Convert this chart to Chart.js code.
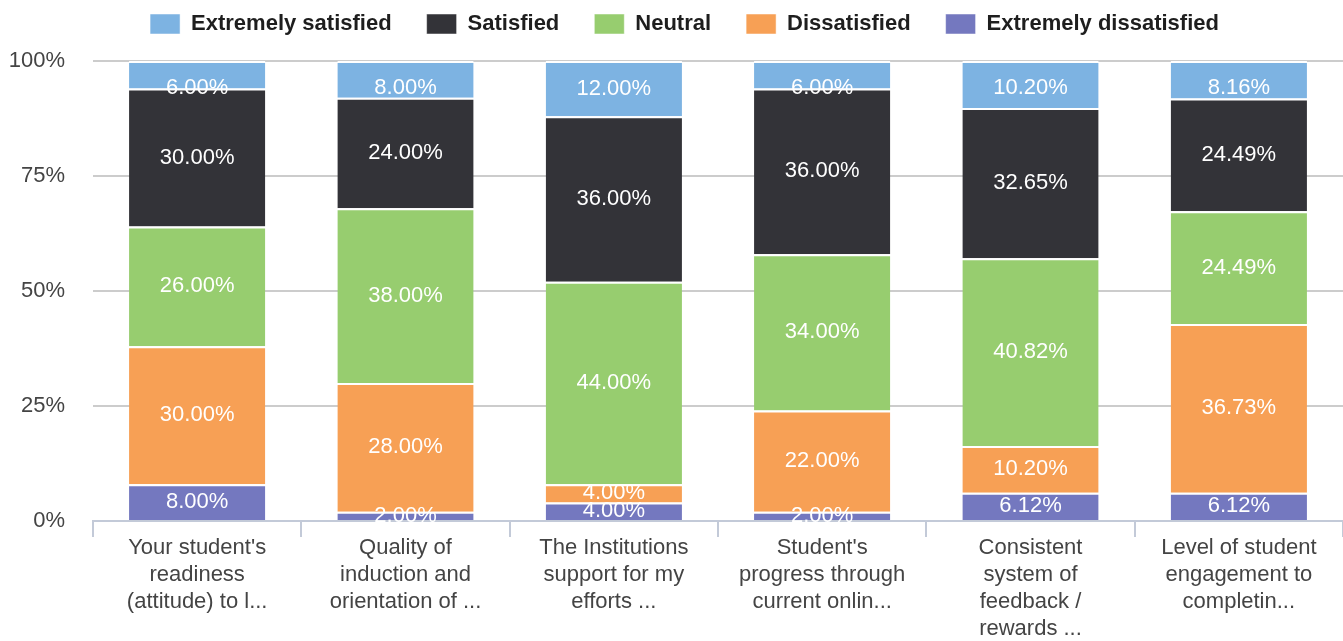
<!DOCTYPE html>
<html>
<head>
<meta charset="utf-8">
<script src="https://cdn.jsdelivr.net/npm/chart.js@4.4.1/dist/chart.umd.min.js"></script>
<style>
  body { margin: 0; background: #fff; }
  #wrap { width: 1343px; height: 641px; }
</style>
</head>
<body>
<div id="wrap"><canvas id="satisfactionChart" width="1343" height="641"></canvas></div>
<script>
// Questions (x axis), already wrapped the way the survey tool shows them
const categories = [
    ["Your student's", "readiness", "(attitude) to l..."],
    ["Quality of", "induction and", "orientation of ..."],
    ["The Institutions", "support for my", "efforts ..."],
    ["Student's", "progress through", "current onlin..."],
    ["Consistent", "system of", "feedback /", "rewards ..."],
    ["Level of student", "engagement to", "completin..."]
];

// Percentages per answer, stacked bottom -> top
const extremelyDissatisfied = [8.00, 2.00, 4.00, 2.00, 6.12, 6.12];
const dissatisfied          = [30.00, 28.00, 4.00, 22.00, 10.20, 36.73];
const neutral               = [26.00, 38.00, 44.00, 34.00, 40.82, 24.49];
const satisfied             = [30.00, 24.00, 36.00, 36.00, 32.65, 24.49];
const extremelySatisfied    = [6.00, 8.00, 12.00, 6.00, 10.20, 8.16];

const yTicks = [0, 25, 50, 75, 100];

const FONT = "'Liberation Sans', Arial, sans-serif";

// white percentage labels centred in each segment
const segmentLabels = {
    id: 'segmentLabels',
    afterDatasetsDraw(chart) {
        const ctx = chart.ctx;
        const last = chart.data.datasets.length - 1;
        ctx.save();
        ctx.font = '22px ' + FONT;
        ctx.fillStyle = '#ffffff';
        ctx.textAlign = 'center';
        ctx.textBaseline = 'middle';
        chart.data.datasets.forEach((ds, di) => {
            const meta = chart.getDatasetMeta(di);
            meta.data.forEach((bar, i) => {
                const p = bar.getProps(['x', 'y', 'base'], true);
                let y = (p.y + p.base) / 2;
                if (di === last) y = Math.max(y, p.y + 27);
                ctx.fillText(ds.data[i].toFixed(2) + '%', p.x, y);
            });
        });
        ctx.restore();
    }
};

// extra room between legend and plot, legend nudged right a little
const legendGap = {
    id: 'legendGap',
    beforeInit(chart) {
        const fit = chart.legend.fit;
        chart.legend.fit = function () {
            fit.call(this);
            this.height += 16;
        };
    },
    afterLayout(chart) {
        chart.legend.left += 16;
    }
};

const ctx = document.getElementById('satisfactionChart').getContext('2d');
new Chart(ctx, {
    type: 'bar',
    data: {
        labels: categories,
        datasets: [
            { label: 'Extremely dissatisfied', data: extremelyDissatisfied, backgroundColor: '#7478bf' },
            { label: 'Dissatisfied', data: dissatisfied, backgroundColor: '#f7a055' },
            { label: 'Neutral', data: neutral, backgroundColor: '#97cd6f' },
            { label: 'Satisfied', data: satisfied, backgroundColor: '#333338' },
            { label: 'Extremely satisfied', data: extremelySatisfied, backgroundColor: '#7db3e2' }
        ].map(d => Object.assign(d, {
            borderColor: '#ffffff',
            borderWidth: { top: 2, bottom: 0, left: 0, right: 0 },
            borderSkipped: false,
            barPercentage: 0.654,
            categoryPercentage: 1
        }))
    },
    options: {
        responsive: false,
        animation: false,
        layout: { padding: { top: -22, left: 10, right: 0, bottom: 0 } },
        plugins: {
            legend: {
                position: 'top',
                reverse: true,
                labels: {
                    boxWidth: 30,
                    boxHeight: 20,
                    padding: 35,
                    color: '#1e1e1e',
                    font: { family: FONT, size: 22, weight: 'bold' }
                }
            },
            tooltip: { enabled: false }
        },
        scales: {
            x: {
                stacked: true,
                afterFit(axis) {
                    axis.height = 120;
                    axis.paddingLeft = 0;
                    axis.paddingRight = 0;
                },
                grid: {
                    offset: true,
                    drawOnChartArea: false,
                    drawTicks: true,
                    tickLength: 16,
                    color: '#c3cad8',
                    lineWidth: 2
                },
                border: { display: true, color: '#c3cad8', width: 2 },
                ticks: {
                    color: '#444',
                    padding: -2,
                    maxRotation: 0,
                    autoSkip: false,
                    font: { family: FONT, size: 22, lineHeight: 1.22 }
                }
            },
            y: {
                stacked: true,
                min: 0,
                max: 100,
                afterFit(axis) {
                    axis.width = 83;
                },
                afterBuildTicks(axis) {
                    axis.ticks = yTicks.map(v => ({ value: v }));
                },
                grid: { color: '#cccccc', lineWidth: 2, drawTicks: false },
                border: { display: false },
                ticks: {
                    color: '#444',
                    padding: 28,
                    font: { family: FONT, size: 22 },
                    callback: v => v + '%'
                }
            }
        }
    },
    plugins: [segmentLabels, legendGap]
});
</script>
</body>
</html>
